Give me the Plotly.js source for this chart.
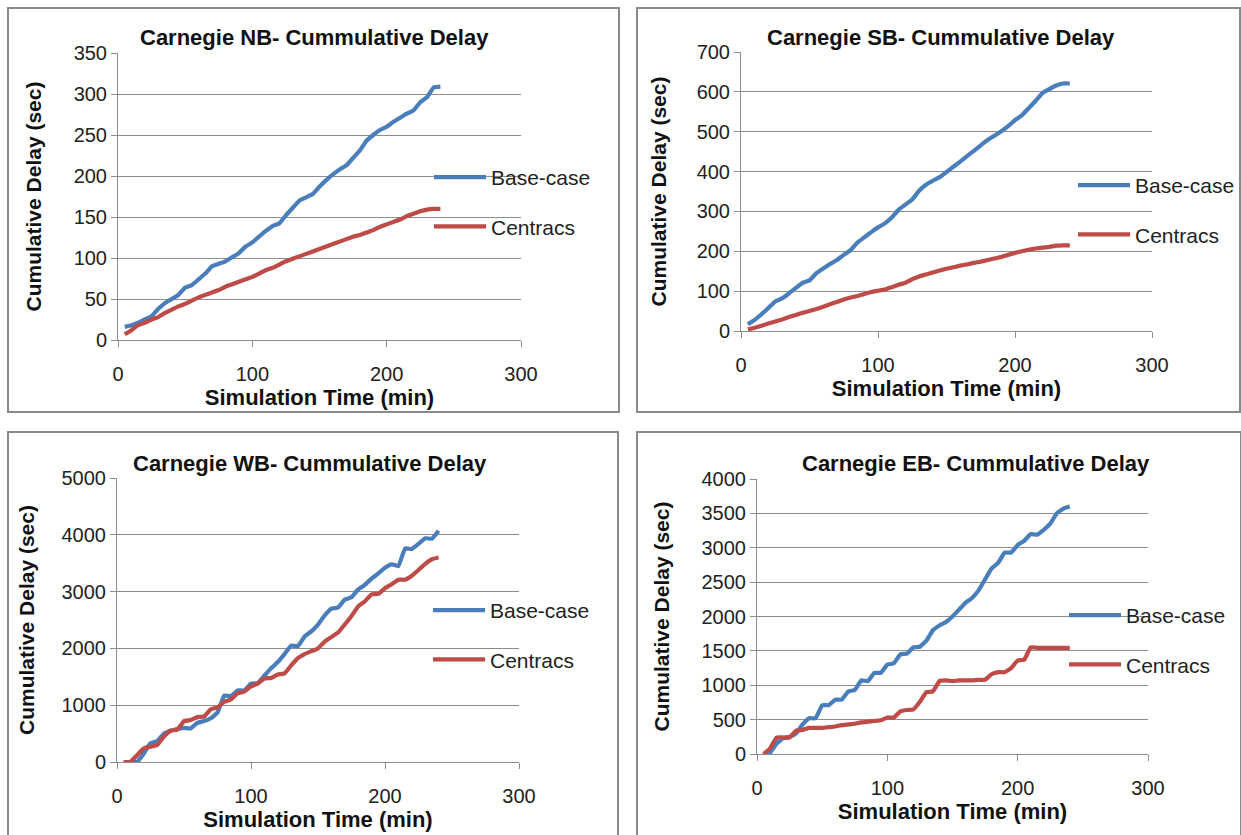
<!DOCTYPE html>
<html>
<head>
<meta charset="utf-8">
<script src="https://cdn.plot.ly/plotly-3.0.1.min.js"></script>
<style>html,body{margin:0;padding:0;background:#fff;}#chart{width:1241px;height:835px;}</style>
</head>
<body>
<div id="chart"></div>
<script>
// Simulation time (min)
const timeMin = [5,10,15,20,25,30,35,40,45,50,55,60,65,70,75,80,85,90,95,100,105,110,115,120,125,130,135,140,145,150,155,160,165,170,175,180,185,190,195,200,205,210,215,220,225,230,235,240];

const seriesNames = ["Base-case", "Centracs"];
const panelTitles = ["Carnegie NB- Cummulative Delay", "Carnegie SB- Cummulative Delay", "Carnegie WB- Cummulative Delay", "Carnegie EB- Cummulative Delay"];
const xTitle = "Simulation Time (min)";
const yTitle = "Cumulative Delay (sec)";

// NB
const nbBase = [16,18,21,25,29,38,45,50,55,64,67,74,81,90,93,96,101,106,114,119,126,133,139,142,152,161,170,174,178,187,195,202,208,213,222,231,243,250,256,260,266,271,276,280,290,296,308,309];
const nbCentracs = [7,12,18,21,25,28,33,37,41,44,48,52,55,58,61,65,68,71,74,77,81,85,88,92,96,99,102,105,108,111,114,117,120,123,126,128,131,134,138,141,144,147,151,154,157,159,160,160];
// SB
const sbBase = [17,28,42,58,74,82,94,108,121,127,145,157,168,178,191,203,222,235,248,260,270,285,304,317,330,352,367,377,386,399,412,425,439,452,466,479,490,501,514,529,541,559,577,597,607,616,621,621];
const sbCentracs = [4,8,13,19,24,29,35,40,46,50,55,61,67,73,79,84,88,93,98,101,104,110,116,121,130,137,142,147,152,156,160,164,167,171,174,178,182,186,191,196,200,204,207,209,211,214,215,215];
// WB
const wbBase = [0,0,0,150,330,370,500,550,580,600,590,690,720,770,870,1170,1160,1260,1260,1380,1390,1520,1650,1760,1900,2050,2040,2210,2300,2420,2580,2700,2720,2860,2900,3040,3120,3230,3320,3420,3480,3450,3760,3750,3840,3940,3930,4070];
const wbCentracs = [0,0,120,240,270,300,450,550,570,720,740,790,800,930,960,1060,1100,1210,1240,1330,1380,1470,1480,1540,1560,1700,1830,1900,1950,2000,2120,2200,2280,2420,2570,2740,2830,2950,2960,3060,3130,3210,3210,3280,3380,3490,3570,3600];
// EB
const ebBase = [0,20,150,230,250,300,430,520,520,710,710,790,790,910,930,1070,1060,1180,1180,1300,1320,1450,1460,1550,1560,1650,1800,1870,1920,2000,2100,2200,2270,2380,2540,2700,2780,2930,2930,3040,3100,3200,3190,3260,3350,3500,3570,3600];
const ebCentracs = [0,80,240,240,240,340,350,380,380,380,390,400,420,430,440,460,470,480,490,530,530,620,640,650,760,900,910,1060,1070,1060,1070,1070,1070,1080,1080,1160,1190,1190,1250,1360,1370,1550,1545,1545,1545,1545,1545,1545];

const yMax = [350, 700, 5000, 4000];
const yStep = [50, 100, 1000, 500];

const W = 1241, H = 835;
const FONT = "Liberation Sans, Arial, sans-serif";
const BLUE = "#4a7ebb", RED = "#be4b48", GRID = "#8c8c8c";

// pixel geometry of the four panels (plot areas, frames, legends, titles)
const geo = [
  {x0:118, x1:521, yb:340, yt:53,  frame:[8,8,619,412],    leg:[429,202], title:[314,38],  ystand:26},
  {x0:741, x1:1152,yb:331, yt:52,  frame:[637,8,1240,412],  leg:[1073,210], title:[941,38], ystand:24},
  {x0:117, x1:519, yb:762, yt:478, frame:[8,432,618,836],   leg:[428,635], title:[310,463], ystand:21},
  {x0:757, x1:1148,yb:754, yt:479, frame:[637,432,1241,836],leg:[1064,640], title:[976,463], ystand:26}
];

const seriesData = [[nbBase, nbCentracs],[sbBase, sbCentracs],[wbBase, wbCentracs],[ebBase, ebCentracs]];

const traces = [];
const layout = {
  width: W, height: H,
  margin: {l:0, r:0, t:0, b:0},
  paper_bgcolor: "#fff", plot_bgcolor: "#fff",
  font: {family: FONT, size: 20, color: "#222"},
  showlegend: true,
  annotations: [], shapes: []
};

geo.forEach((g, i) => {
  const n = i + 1;
  const xa = n === 1 ? "x" : "x" + n;
  const ya = n === 1 ? "y" : "y" + n;
  const legId = n === 1 ? "legend" : "legend" + n;
  seriesData[i].forEach((vals, k) => {
    traces.push({
      type: "scatter", mode: "lines", x: timeMin, y: vals,
      name: seriesNames[k], xaxis: xa, yaxis: ya, legend: legId,
      legendgroup: "g" + n + "_" + k,
      line: {color: k === 0 ? BLUE : RED, width: 4.2, shape: "spline", smoothing: 0.3},
      hoverinfo: "x+y"
    });
  });
  layout[n === 1 ? "xaxis" : "xaxis" + n] = {
    domain: [g.x0 / W, g.x1 / W], anchor: ya, range: [0, 300], dtick: 100,
    showgrid: false, zeroline: false, showline: true, linecolor: GRID, linewidth: 1,
    ticks: "outside", ticklen: 6, tickcolor: GRID, ticklabelstandoff: 10,
    tickfont: {family: FONT, size: 20, color: "#222"},
    title: {text: xTitle, standoff: 0, font: {family: FONT, size: 22, color: "#111", weight: "bold"}}
  };
  layout[n === 1 ? "yaxis" : "yaxis" + n] = {
    domain: [1 - g.yb / H, 1 - g.yt / H], anchor: xa, range: [0, yMax[i]], dtick: yStep[i],
    showgrid: true, gridcolor: GRID, gridwidth: 1, zeroline: false,
    showline: true, linecolor: GRID, linewidth: 1,
    ticks: "outside", ticklen: 6, tickcolor: GRID,
    tickfont: {family: FONT, size: 20, color: "#222"},
    title: {text: yTitle, standoff: g.ystand, font: {family: FONT, size: 21, color: "#111", weight: "bold"}}
  };
  layout[legId] = {
    x: g.leg[0] / W, y: 1 - g.leg[1] / H, xanchor: "left", yanchor: "middle",
    bgcolor: "rgba(0,0,0,0)", borderwidth: 0, tracegroupgap: 19, itemwidth: 52,
    font: {family: FONT, size: 21, color: "#222"}
  };
  layout.annotations.push({
    text: panelTitles[i], xref: "paper", yref: "paper",
    x: g.title[0] / W, y: 1 - g.title[1] / H, xanchor: "center", yanchor: "middle",
    showarrow: false, font: {family: FONT, size: 22, color: "#111", weight: "bold"}
  });
  layout.shapes.push({
    type: "rect", xref: "paper", yref: "paper", layer: "below",
    x0: g.frame[0] / W, x1: g.frame[2] / W, y0: 1 - g.frame[3] / H, y1: 1 - g.frame[1] / H,
    line: {color: "#8a8a8a", width: 2}, fillcolor: "rgba(0,0,0,0)"
  });
});

Plotly.newPlot("chart", traces, layout, {displayModeBar: false, staticPlot: true});
</script>
</body>
</html>
